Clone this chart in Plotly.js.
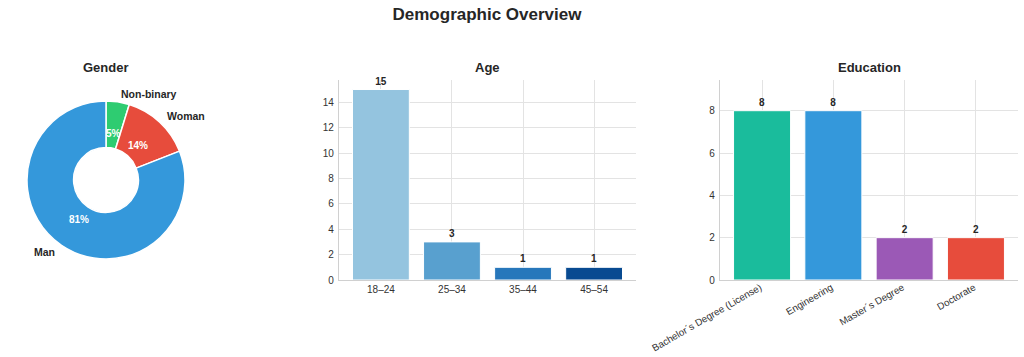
<!DOCTYPE html>
<html>
<head>
<meta charset="utf-8">
<script src="https://cdn.plot.ly/plotly-3.0.1.min.js"></script>
<style>html,body{margin:0;padding:0;background:#fff;}#chart{width:1024px;height:357px;}</style>
</head>
<body>
<div id="chart"></div>
<script>
// ---- data ----
const genderLabels = ["Man", "Woman", "Non-binary"];
const genderCounts = [17, 3, 1];
const genderColors = ["#3498db", "#e74c3c", "#2ecc71"];

const ageCategories = ["18–24", "25–34", "35–44", "45–54"];
const ageCounts = [15, 3, 1, 1];
const ageColors = ["#94c4df", "#58a0cf", "#2777bb", "#084a91"];

const eduCategories = ["Bachelor´s Degree (License)", "Engineering", "Master´s Degree", "Doctorate"];
const eduCounts = [8, 8, 2, 2];
const eduColors = ["#1abc9c", "#3498db", "#9b59b6", "#e74c3c"];

// ---- layout constants ----
const W = 1024, H = 357;
const FONT = "Liberation Sans, Arial, sans-serif";
const TXT = "#262626";
const pie = {cx: 106, cy: 180, r: 79};
const px = x => x / W, py = y => 1 - y / H;

const rev = a => a.slice().reverse();
const traces = [];
// slices laid counterclockwise from 12 o'clock (Man, Woman, Non-binary) == clockwise with reversed order
traces.push({
  type: "pie", labels: rev(genderLabels), values: rev(genderCounts), sort: false,
  direction: "clockwise", rotation: 0, hole: 0.41,
  marker: {colors: rev(genderColors), line: {color: "#ffffff", width: 1.5}},
  textinfo: "none", hoverinfo: "label+percent", showlegend: false,
  domain: {x: [px(pie.cx - pie.r), px(pie.cx + pie.r)], y: [py(pie.cy + pie.r), py(pie.cy - pie.r)]}
});
traces.push({
  type: "bar", x: ageCategories, y: ageCounts, xaxis: "x", yaxis: "y",
  marker: {color: ageColors, line: {color: "#ffffff", width: 1}}, width: 0.8,
  text: ageCounts.map(String), textposition: "outside", cliponaxis: false,
  textfont: {family: FONT, size: 10, color: TXT, weight: "bold"}, showlegend: false
});
traces.push({
  type: "bar", x: eduCategories, y: eduCounts, xaxis: "x2", yaxis: "y2",
  marker: {color: eduColors, line: {color: "#ffffff", width: 1}}, width: 0.8,
  text: eduCounts.map(String), textposition: "outside", cliponaxis: false,
  textfont: {family: FONT, size: 10, color: TXT, weight: "bold"}, showlegend: false
});

// pie labels computed from data (matplotlib-style: labeldistance 1.1, pctdistance 0.6)
const annotations = [];
const total = genderCounts.reduce((a, b) => a + b, 0);
let cum = 0;
genderCounts.forEach((v, i) => {
  const mid = (cum + v / 2) / total * 360; cum += v;
  const phi = (90 + mid) * Math.PI / 180;
  const lx = pie.cx + 1.1 * pie.r * Math.cos(phi), ly = pie.cy - 1.1 * pie.r * Math.sin(phi);
  annotations.push({xref: "paper", yref: "paper", x: px(lx), y: py(ly), text: genderLabels[i],
    showarrow: false, xanchor: Math.cos(phi) > 0 ? "left" : "right", yanchor: "middle",
    font: {family: FONT, size: 10.5, color: TXT, weight: "bold"}});
  const tx = pie.cx + 0.6 * pie.r * Math.cos(phi), ty = pie.cy - 0.6 * pie.r * Math.sin(phi);
  annotations.push({xref: "paper", yref: "paper", x: px(tx), y: py(ty),
    text: Math.round(v / total * 100) + "%", showarrow: false, xanchor: "center", yanchor: "middle",
    font: {family: FONT, size: 10, color: "#ffffff", weight: "bold"}});
});

const subTitles = [["Gender", 106], ["Age", 487.5], ["Education", 869]];
subTitles.forEach(([t, x]) => annotations.push({xref: "paper", yref: "paper", x: px(x), y: py(67),
  text: t, showarrow: false, xanchor: "center", yanchor: "middle",
  font: {family: FONT, size: 13, color: TXT, weight: "bold"}}));

const axBase = {
  showgrid: true, gridcolor: "#e3e3e3", gridwidth: 1, zeroline: false,
  showline: true, linecolor: "#d0d0d0", linewidth: 1.2, ticks: "",
  tickfont: {family: FONT, size: 10, color: "#333333"}, fixedrange: true
};

const layout = {
  width: W, height: H, paper_bgcolor: "#ffffff", plot_bgcolor: "#ffffff",
  margin: {l: 0, r: 0, t: 0, b: 0},
  font: {family: FONT, color: TXT},
  title: {text: "Demographic Overview", x: px(487), xanchor: "center", y: py(14), yanchor: "middle",
    yref: "container", xref: "container",
    font: {family: FONT, size: 17, color: TXT, weight: "bold"}},
  bargap: 0.2,
  xaxis: Object.assign({}, axBase, {domain: [px(339), px(636)], range: [-0.59, 3.59], anchor: "y", type: "category"}),
  yaxis: Object.assign({}, axBase, {domain: [py(280), py(80)], range: [0, 15.75], dtick: 2, anchor: "x", ticklabelstandoff: 2}),
  xaxis2: Object.assign({}, axBase, {domain: [px(720), px(1018)], range: [-0.59, 3.59], anchor: "y2", type: "category", tickangle: -30,
    ticklabelshift: -2, ticklabelstandoff: -3,
    tickfont: {family: FONT, size: 9.8, color: "#333333"}}),
  yaxis2: Object.assign({}, axBase, {domain: [py(280), py(80)], range: [0, 9.45], dtick: 2, anchor: "x2", ticklabelstandoff: 2}),
  annotations: annotations
};

Plotly.newPlot("chart", traces, layout, {displayModeBar: false, staticPlot: true});
</script>
</body>
</html>
